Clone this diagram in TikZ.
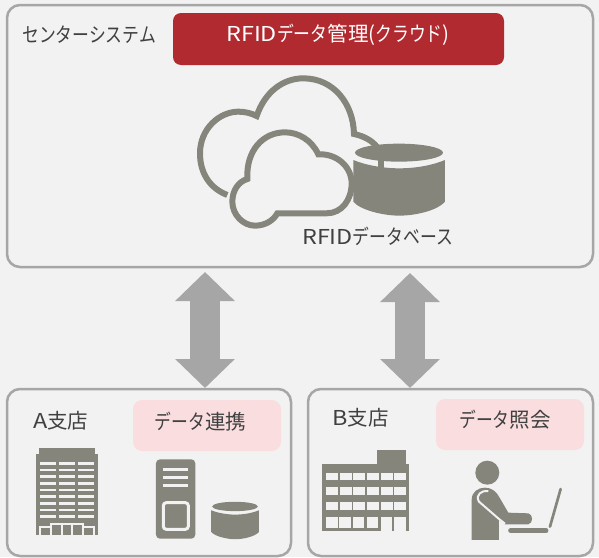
\documentclass[tikz,border=0pt]{standalone}
\usepackage{fontspec}
\setmainfont{Noto Sans CJK JP}
\newfontfamily\kanafont[FakeStretch=0.82]{Noto Sans CJK JP}
\newfontfamily\latinfont[FakeStretch=1.14]{Noto Sans CJK JP}
\newcommand{\kn}[1]{{\kanafont #1}}
\newcommand{\lt}[1]{{\latinfont #1}}
\usetikzlibrary{arrows.meta}
\definecolor{pagebg}{HTML}{F2F2F2}
\definecolor{panelline}{HTML}{A6A6A6}
\definecolor{icongray}{HTML}{85857B}
\definecolor{textgray}{HTML}{404040}
\definecolor{titlered}{HTML}{B02A30}
\definecolor{softpink}{HTML}{FADEDF}
\tikzset{
  panel/.style={draw=panelline,line width=2.5pt,fill=pagebg,rounded corners=13pt,inner sep=0pt},
  titlebar/.style={fill=titlered,rounded corners=8pt,minimum width=331pt,minimum height=52pt,inner sep=0pt},
  pinkbar/.style={fill=softpink,rounded corners=9pt,minimum width=148pt,minimum height=51pt,inner sep=0pt},
  caption/.style={text=textgray,inner sep=0pt,font=\fontsize{20.5}{22}\selectfont},
  bigarrow/.style={draw=panelline,line width=30pt,{Triangle[length=29pt,width=58pt]}-{Triangle[length=29pt,width=58pt]}},
  whiteline/.style={draw=pagebg,line width=3pt},
  dbicon/.pic={
    \fill[icongray] (0,-80) ellipse (132 and 27);
    \fill[icongray] (-137,-58) -- (-137,67) .. controls (-117,92) and (-47,109) .. (0,109) .. controls (53,109) and (118,92) .. (138,67) -- (138,-58) .. controls (103,-43) and (53,-33) .. (0,-33) .. controls (-47,-33) and (-102,-43) .. (-137,-58) -- cycle;
  }
}
\begin{document}
\begin{tikzpicture}[x=1pt,y=-1pt]
  \useasboundingbox[fill=pagebg] (0,0) rectangle (599,557);

  % panels
  \node[panel,minimum width=586pt,minimum height=262pt] (center) at (300,136) {};
  \node[panel,minimum width=284pt,minimum height=167pt] (branchA) at (149,472.5) {};
  \node[panel,minimum width=285pt,minimum height=167pt] (branchB) at (450.5,472.5) {};

  % arrows between the panels
  \coordinate (arrowAtop) at (205,272);
  \coordinate (arrowAbot) at (205,388);
  \coordinate (arrowBtop) at (410,273);
  \coordinate (arrowBbot) at (410,388);
  \draw[bigarrow] (arrowAtop) -- (arrowAbot);
  \draw[bigarrow] (arrowBtop) -- (arrowBbot);

  % titles
  \node[titlebar] (rfidbar) at (338.5,39) {};
  \node[pinkbar] (renkei) at (207,425.5) {};
  \node[pinkbar] (shokai) at (510,424.5) {};
  \node[caption,text=white] (rfidkanri) at (338,35) {\lt{RFID}\kn{データ}管理(\kn{クラウド})};
  \node[caption] (renkeitext) at (200.5,422) {\kn{データ}連携};
  \node[caption] (shokaitext) at (505,420) {\kn{データ}照会};
  \node[caption,anchor=west] (centerlabel) at (22,35) {\kn{センターシステム}};
  \node[caption,anchor=west] (rfiddb) at (302,236) {\lt{RFID}\kn{データベース}};
  \node[caption,anchor=west] (labelA) at (33,421) {\lt{A}支店};
  \node[caption,anchor=west] (labelB) at (332,418) {\lt{B}支店};

  % clouds and database
  \begin{scope}[shift={(170,60)},scale=0.3333]
    \draw[icongray,line width=6pt] (172,405) .. controls (120,385) and (90,340) .. (90,280) .. controls (90,205) and (150,155) .. (205,155) .. controls (225,155) and (245,160) .. (260,168) .. controls (285,95) and (340,55) .. (400,55) .. controls (490,55) and (550,130) .. (552,222) .. controls (580,228) and (605,240) .. (622,262);
    \draw[icongray,line width=6pt,fill=pagebg] (322,460) -- (470,460) .. controls (515,460) and (545,420) .. (545,370) .. controls (545,320) and (500,280) .. (445,283) .. controls (425,240) and (385,217) .. (345,217) .. controls (280,217) and (228,270) .. (232,357) .. controls (205,365) and (187,392) .. (187,425) .. controls (187,465) and (220,497) .. (255,497) .. controls (285,497) and (310,482) .. (322,460) -- cycle;
    \pic[transform shape] at (687,358) {dbicon};
    \fill[icongray] (624,300) rectangle (643,325);
  \end{scope}

  % building A
  \begin{scope}[shift={(0,385)},scale=0.3333]
    \fill[icongray] (118,190) rectangle (284,212);
    \fill[icongray] (109,208) rectangle (293,449);
    \foreach \rowy in {235,255,...,395}
      \foreach \colx/\colw in {120/48,176/50,234/48}
        \fill[pagebg] (\colx,\rowy-4) rectangle ++(\colw,8);
    \draw[whiteline,line width=2pt] (120,449) -- (120,426) -- (152,426) -- (152,418) -- (250,418) -- (250,426) -- (282,426) -- (282,449);
    \foreach \colx in {154,185,217,250}
      \draw[whiteline,line width=2pt] (\colx,420) -- (\colx,449);
    % server
    \fill[icongray,rounded corners=4pt] (468,223) rectangle (586,461);
    \foreach \rowy in {253,278,303}
      \draw[whiteline] (490,\rowy) -- (565,\rowy);
    \draw[whiteline,rounded corners=3pt] (490,353) rectangle (565,433);
    \pic[scale=0.52,transform shape] at (705,406) {dbicon};
  \end{scope}

  % building B and operator
  \begin{scope}[shift={(300,385)},scale=0.3333]
    \fill[icongray] (232,195) rectangle (318,240);
    \fill[icongray] (67,238) rectangle (328,437);
    \foreach \rowy in {264,307,352}
      \foreach \colx in {78,119,160,201,242,283}
        \fill[pagebg] (\colx,\rowy) rectangle ++(36,22);
    \foreach \colx in {78,118,158,200}
      \fill[pagebg] (\colx,397) rectangle ++(35,33);
    \fill[pagebg] (242,397) rectangle (276,437);
    \fill[pagebg] (283,397) rectangle (317,437);
    % operator
    \fill[icongray] (562,263) circle (36);
    \fill[icongray] (515,465) -- (515,345) .. controls (515,320) and (535,308) .. (555,308) .. controls (575,308) and (590,320) .. (600,340) -- (625,383) -- (685,385) .. controls (700,388) and (700,415) .. (685,418) -- (615,418) -- (597,405) -- (597,465) -- cycle;
    \draw[whiteline,line width=2pt] (565,318) .. controls (545,315) and (525,330) .. (537,350) -- (597,402) -- (615,416);
    \draw[icongray,line width=5pt,line cap=round] (632,437) -- (738,437);
    \draw[icongray,line width=2.7pt,line cap=round] (750,425) -- (782,312);
  \end{scope}
\end{tikzpicture}
\end{document}
